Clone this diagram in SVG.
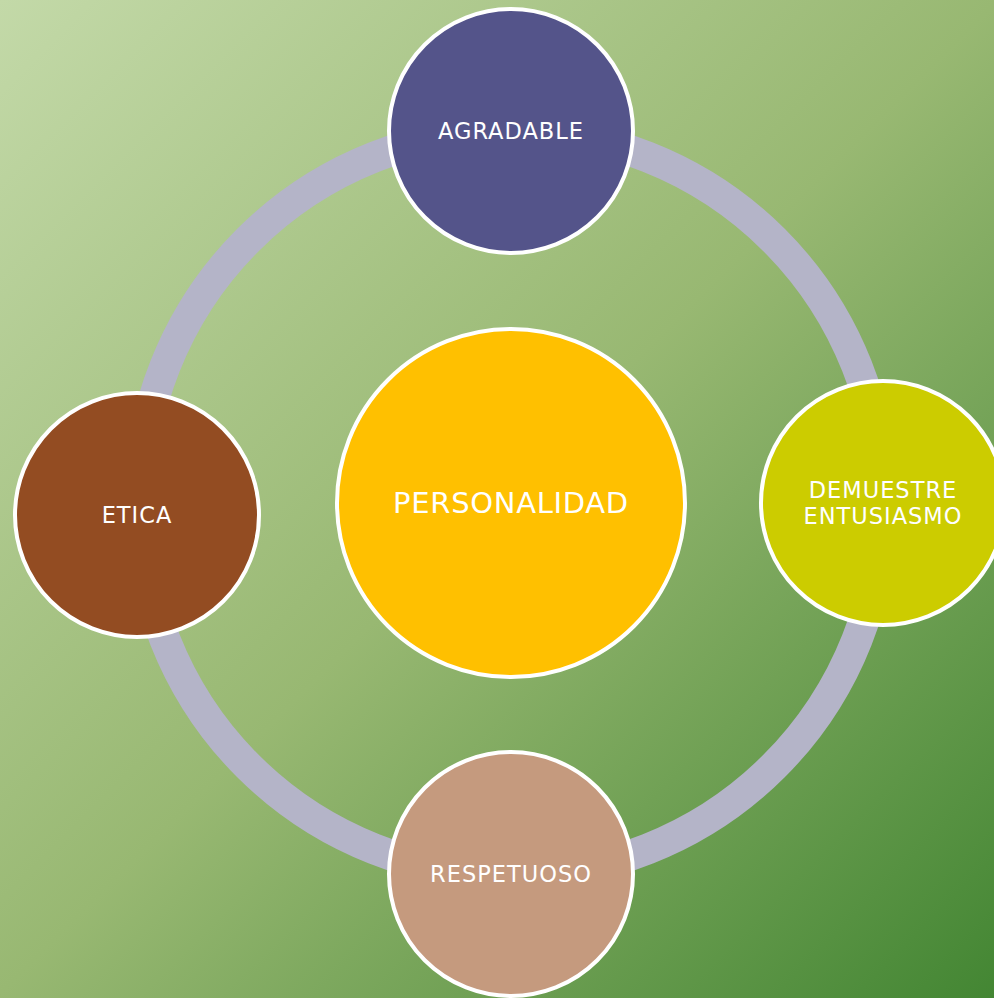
<svg xmlns="http://www.w3.org/2000/svg" width="994" height="998" viewBox="0 0 994 998">
<defs>
<linearGradient id="bg" x1="0" y1="0" x2="994" y2="998" gradientUnits="userSpaceOnUse">
<stop offset="0" stop-color="#c3d9a8"/>
<stop offset="0.5" stop-color="#98b872"/>
<stop offset="1" stop-color="#438633"/>
</linearGradient>
</defs>
<style>
.node{stroke:#ffffff;stroke-width:4}
.lbl{font-family:"DejaVu Sans","Liberation Sans",sans-serif;fill:#ffffff;text-anchor:middle;font-size:22.5px;letter-spacing:1px}
</style>
<rect x="0" y="0" width="994" height="998" fill="url(#bg)"/>
<g id="connectors">
<circle cx="511" cy="503" r="372" fill="none" stroke="#b4b4c8" stroke-width="31"/>
</g>
<g id="center">
<circle class="node" cx="511" cy="503" r="174" fill="#ffc000"/>
<text class="lbl" x="511" y="513" style="font-size:29px;letter-spacing:0.7px">PERSONALIDAD</text>
</g>
<g id="agradable">
<circle class="node" cx="511" cy="131" r="122" fill="#54548a"/>
<text class="lbl" x="511" y="139">AGRADABLE</text>
</g>
<g id="entusiasmo">
<circle class="node" cx="883" cy="503" r="122" fill="#cccc00"/>
<text class="lbl" x="883" y="498">DEMUESTRE</text>
<text class="lbl" x="883" y="524">ENTUSIASMO</text>
</g>
<g id="respetuoso">
<circle class="node" cx="511" cy="874" r="122" fill="#c59a7e"/>
<text class="lbl" x="511" y="882">RESPETUOSO</text>
</g>
<g id="etica">
<circle class="node" cx="137" cy="515" r="122" fill="#934c22"/>
<text class="lbl" x="137" y="523">ETICA</text>
</g>
</svg>
